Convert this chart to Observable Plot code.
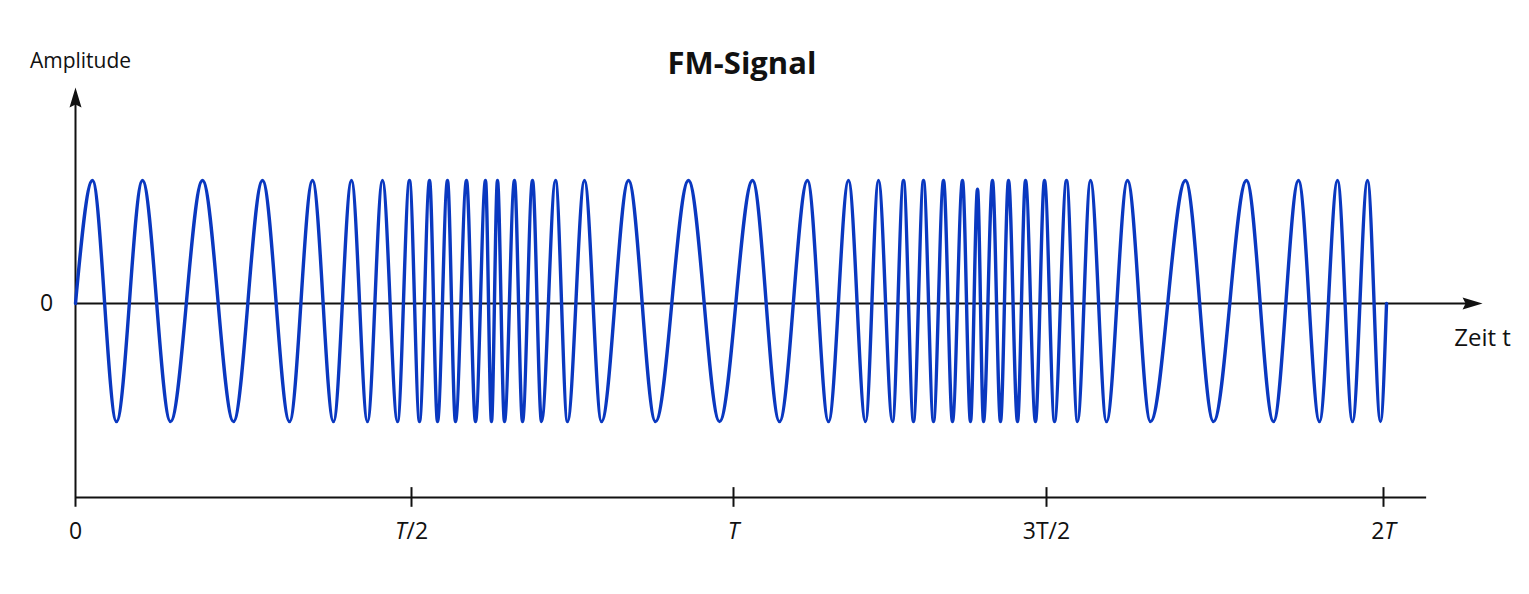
<!DOCTYPE html>
<html>
<head>
<meta charset="utf-8">
<script src="https://cdn.jsdelivr.net/npm/d3@7"></script>
<script src="https://cdn.jsdelivr.net/npm/@observablehq/plot@0.6"></script>
<style>
  html, body { margin: 0; padding: 0; background: #ffffff; }
  #chart svg { display: block; }
</style>
</head>
<body>
<div id="chart"></div>
<script>
// ---- Data ----
// Times of the signal's extrema (in units of T), plus start and end points on the zero line
const extremaT = [
  0.0000,
  0.0253, 0.0610, 0.0997, 0.1414, 0.1890, 0.2351, 0.2783, 0.3185, 0.3527, 0.3839,
  0.4107, 0.4345, 0.4568, 0.4792, 0.4970, 0.5124, 0.5280, 0.5404, 0.5559, 0.5683,
  0.5854, 0.5994, 0.6149, 0.6242, 0.6335, 0.6444, 0.6599, 0.6724, 0.6879, 0.7019,
  0.7236, 0.7422, 0.7686, 0.7950, 0.8370, 0.8789, 0.9301, 0.9783, 1.0304, 1.0735,
  1.1182, 1.1518, 1.1837, 1.2109, 1.2316, 1.2540, 1.2716, 1.2875, 1.3035, 1.3195,
  1.3355, 1.3498, 1.3658, 1.3786, 1.3898, 1.3994, 1.4137, 1.4265, 1.4393, 1.4537,
  1.4665, 1.4824, 1.4968, 1.5119, 1.5297, 1.5460, 1.5653, 1.5890, 1.6202, 1.6543,
  1.7062, 1.7478, 1.7967, 1.8368, 1.8739, 1.9050, 1.9318, 1.9540, 1.9763, 1.9955,
  2.0045
];
// Amplitude at each of those times
const extremaA = [
  0,
  1, -0.96, 1, -0.96, 1, -0.96, 1, -0.96, 1, -0.96,
  1, -0.96, 1, -0.96, 1, -0.96, 1, -0.96, 1, -0.96,
  1, -0.96, 1, -0.96, 1, -0.96, 1, -0.96, 1, -0.96,
  1, -0.96, 1, -0.96, 1, -0.96, 1, -0.96, 1, -0.96,
  1, -0.96, 1, -0.96, 1, -0.96, 1, -0.96, 1, -0.96,
  1, -0.96, 1, -0.96, 0.93, -0.96, 1, -0.96, 1, -0.96,
  1, -0.96, 1, -0.96, 1, -0.96, 1, -0.96, 1, -0.96,
  1, -0.96, 1, -0.96, 1, -0.96, 1, -0.96, 1, -0.96,
  0
];
const tickValues = [0, 0.5, 1, 1.5, 2];
const tickLabels = ["0", "<i>T</i>/2", "<i>T</i>", "3T/2", "2<i>T</i>"];
const titleText = "FM-Signal";
const yLabel = "Amplitude";
const xLabel = "Zeit t";
const zeroLabel = "0";

// ---- Build ----
const signal = extremaT.map((t, i) => ({t, a: extremaA[i]}));
const plain = s => s.replace(/<\/?i>/g, "");

const FONT = "'Open Sans', Lato, sans-serif";
const INK = "#111111";
const BLUE = "#0a38c0";

// axis geometry (in scale units)
const axisBottomY = -1.577;   // bottom time axis
const yAxisTop = 1.756;       // tip of amplitude arrow
const xArrowTip = 2.147;      // tip of zero-line arrow
const bottomAxisEnd = 2.064;
const tickHalf = 0.08;

const arrowHead = {
  draw(context, size) {
    const r = Math.sqrt(size / Math.PI);
    context.moveTo(0, 0);
    context.lineTo(-0.6 * r, 2 * r);
    context.lineTo(0, 1.7 * r);
    context.lineTo(0.6 * r, 2 * r);
    context.closePath();
  }
};

const chart = Plot.plot({
  width: 1529,
  height: 594,
  marginTop: 0, marginRight: 0, marginBottom: 0, marginLeft: 0,
  style: {fontFamily: FONT, background: "#ffffff", color: INK},
  x: {type: "linear", domain: [0, 0.5, 1, 1.5, 2], range: [75, 411, 733, 1046, 1383], axis: null},
  y: {type: "linear", domain: [0, 1], range: [303, 180], axis: null},
  marks: [
    // bottom time axis
    Plot.ruleY([axisBottomY], {x1: 0, x2: bottomAxisEnd, stroke: INK, strokeWidth: 2}),
    Plot.ruleX(tickValues.slice(1), {y1: axisBottomY - tickHalf, y2: axisBottomY + tickHalf, stroke: INK, strokeWidth: 2}),
    // amplitude axis
    Plot.ruleX([0], {y1: axisBottomY - tickHalf, y2: yAxisTop - 0.1, stroke: INK, strokeWidth: 2}),
    // zero line
    Plot.ruleY([0], {x1: 0, x2: xArrowTip - 0.02, stroke: INK, strokeWidth: 2}),
    // signal
    Plot.line(signal, {x: "t", y: "a", curve: "monotone-x", stroke: BLUE, strokeWidth: 3.4, strokeLinejoin: "round"}),
    // arrowheads
    Plot.dot([{x: 0, y: yAxisTop}], {x: "x", y: "y", symbol: arrowHead, r: 10, fill: INK, stroke: null, rotate: 0}),
    Plot.dot([{x: xArrowTip, y: 0}], {x: "x", y: "y", symbol: arrowHead, r: 10, fill: INK, stroke: null, rotate: 90}),
    // tick labels
    Plot.text(tickValues, {x: d => d, y: axisBottomY, dy: 34, text: (d, i) => plain(tickLabels[i]), fontSize: 23, fill: INK, fontFamily: FONT, className: "ticklabel"}),
    // axis labels
    Plot.text([yLabel], {x: 0, y: yAxisTop, dx: 5, dy: -26, text: d => d, fontSize: 21, fill: INK, fontFamily: FONT}),
    Plot.text([zeroLabel], {x: 0, y: 0, dx: -29, text: d => d, fontSize: 23, fill: INK, fontFamily: FONT}),
    Plot.text([xLabel], {x: xArrowTip, y: 0, dy: 35, text: d => d, fontSize: 24, fill: INK, fontFamily: FONT}),
    // title
    Plot.text([titleText], {frameAnchor: "top", lineAnchor: "middle", dx: -23, dy: 64, text: d => d, fontSize: 31, fontWeight: "bold", fill: INK, fontFamily: FONT})
  ]
});

// italic T in tick labels
d3.select(chart).selectAll("g.ticklabel text").each(function(d, k) {
  const idx = (typeof d === "number") ? d : k;
  const label = tickLabels[idx];
  const sel = d3.select(this);
  sel.text(null);
  label.split(/(<i>.*?<\/i>)/).filter(s => s.length).forEach(part => {
    const it = /^<i>/.test(part);
    sel.append("tspan").attr("font-style", it ? "italic" : null).text(plain(part));
  });
});

document.getElementById("chart").append(chart);
</script>
</body>
</html>
